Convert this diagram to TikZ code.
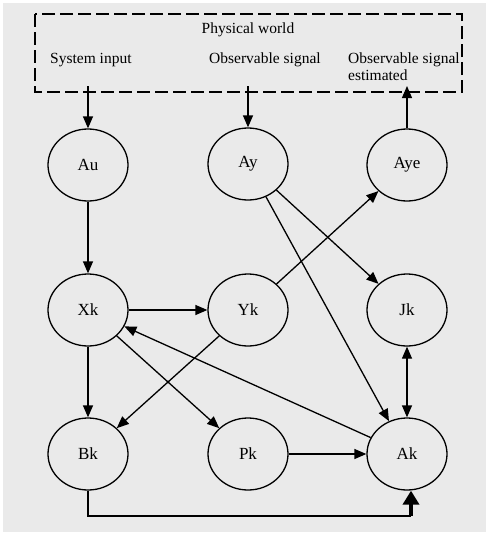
\documentclass[tikz,border=0pt]{standalone}
\usepackage{fontspec}
\setmainfont{Liberation Serif}
\usetikzlibrary{arrows.meta,shapes.geometric}
\definecolor{bggray}{HTML}{EAEAEA}
\begin{document}
\begin{tikzpicture}[x=1pt,y=-1pt,
  st/.style={ellipse,draw,line width=1.3pt,minimum width=80pt,minimum height=72pt,inner sep=0pt,font=\fontsize{17}{20}\selectfont},
  ar/.style={line width=1.3pt,-{Triangle[length=12pt,width=10pt]}},
  dar/.style={line width=1.3pt,{Triangle[length=12pt,width=10pt]}-{Triangle[length=12pt,width=10pt]}},
  lbl/.style={inner sep=0pt,font=\fontsize{15.5}{16.5}\selectfont}]
\useasboundingbox (0,0) rectangle (490,533);
\fill[white] (0,0) rectangle (490,533);
\fill[bggray] (3,3) rectangle (486,532);
% physical world box
\draw[line width=1.3pt,dash pattern=on 13pt off 5pt] (35,14) rectangle (462,92);
\node[lbl,anchor=base] (pw) at (248,33) {Physical world};
\node[lbl,anchor=base west] (si) at (50,63.5) {System input};
\node[lbl,anchor=base west] (os) at (209,63.5) {Observable signal};
\node[lbl,anchor=north west,align=left] (ose) at (348,52.8) {Observable signal\\estimated};
\coordinate (inu) at (88,86);
\coordinate (iny) at (248,86);
\coordinate (oute) at (407,86);
% nodes
\node[st] (Au) at (88,165) {Au};
\node[st] (Ay) at (248,164) {Ay};
\node[st] (Aye) at (407,165) {Aye};
\node[st] (Xk) at (88,310) {Xk};
\node[st] (Yk) at (248,310) {Yk};
\node[st] (Jk) at (407,310) {Jk};
\node[st] (Bk) at (88,454) {Bk};
\node[st] (Pk) at (248,454) {Pk};
\node[st] (Ak) at (407,454) {Ak};
% edges
\draw[ar] (inu) -- (Au);
\draw[ar] (iny) -- (Ay);
\draw[ar] (Aye) -- (oute);
\draw[ar] (Au) -- (Xk);
\draw[ar] (Xk) -- (Yk);
\draw[ar] (Yk) -- (Aye);
\draw[ar] (Ay) -- (Jk);
\draw[ar] (Ay) -- (Ak);
\draw[ar] (Xk) -- (Bk);
\draw[ar] (Yk) -- (Bk);
\draw[ar] (Xk) -- (Pk);
\draw[ar] (Ak) -- (Xk);
\draw[ar] (Pk) -- (Ak);
\draw[dar] (Jk) -- (Ak);
\coordinate (bkc) at (88,516);
\coordinate (akc) at (411,516);
\draw[line width=1.3pt] (Bk.south) -- (bkc) -- (akc);
\draw[line width=3.5pt,-{Triangle[length=14pt,width=16pt]}] (akc) -- (Ak.south -| akc);
\end{tikzpicture}
\end{document}
